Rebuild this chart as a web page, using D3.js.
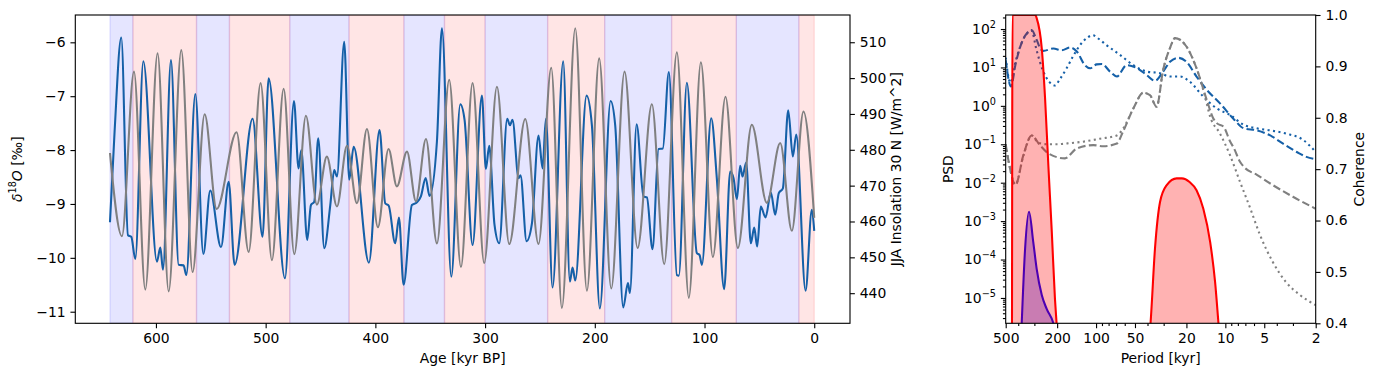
<!DOCTYPE html>
<html>
<head>
<meta charset="utf-8">
<script src="https://cdn.jsdelivr.net/npm/d3@7"></script>
<style>
  body { margin: 0; background: #fff; }
  svg text { font-family: "DejaVu Sans", sans-serif; font-size: 13.9px; fill: #000; }
</style>
</head>
<body>
<div id="chart"></div>
<script>
// ---- data ----

// delta18O record [age kyr BP, permil]
const d18o = [
  [641.9, -9.34], [637.7, -7.66], [631.6, -5.91], [625.5, -9.58], [622.5, -9.61], [618.8, -10.02],
  [611.5, -6.35], [599.1, -10.07], [596.0, -9.81], [593.6, -10.22], [586.3, -6.33], [579.3, -10.13],
  [574.8, -10.14], [572.3, -10.32], [564.1, -6.96], [556.8, -9.93], [550.5, -8.75], [540.7, -9.80],
  [533.7, -8.59], [528.3, -10.13], [511.9, -7.42], [502.8, -9.61], [497.3, -6.67], [482.4, -10.38],
  [474.2, -7.09], [470.0, -8.34], [467.5, -8.00], [462.1, -9.67], [458.7, -9.02], [455.7, -8.96],
  [452.1, -7.78], [446.6, -9.82], [441.1, -9.02], [437.5, -8.37], [435.0, -8.49], [428.4, -5.99],
  [423.8, -8.55], [419.8, -7.94], [405.9, -10.09], [396.2, -7.63], [391.0, -8.99], [387.9, -9.03],
  [381.9, -9.73], [378.5, -9.25], [374.3, -10.50], [366.7, -9.02], [362.1, -8.97], [358.5, -8.86],
  [354.2, -8.52], [350.6, -8.85], [343.9, -7.84], [339.3, -5.74], [330.8, -10.35], [322.6, -7.15],
  [318.7, -7.44], [311.4, -9.76], [302.9, -6.99], [299.3, -8.35], [296.2, -7.92], [291.4, -9.39],
  [287.1, -9.73], [279.8, -7.42], [277.4, -7.54], [275.0, -7.44], [269.5, -8.52], [267.7, -8.47],
  [262.2, -9.69], [257.3, -9.36], [251.3, -7.73], [247.6, -8.34], [244.6, -7.42], [238.5, -10.55],
  [228.8, -6.35], [222.7, -10.44], [220.3, -10.18], [217.8, -10.42], [207.5, -6.99], [202.6, -7.55],
  [195.4, -10.94], [185.6, -7.09], [181.4, -7.54], [174.1, -10.92], [169.8, -10.47], [168.0, -10.65],
  [161.9, -7.52], [155.6, -8.86], [152.5, -8.88], [147.4, -9.84], [141.9, -7.98], [138.0, -7.97],
  [132.5, -6.55], [125.2, -10.32], [123.4, -10.33], [116.1, -6.75], [107.0, -9.91], [104.5, -9.95],
  [102.4, -10.13], [93.9, -7.41], [88.8, -8.52], [82.1, -10.58], [76.6, -8.40], [73.6, -8.52],
  [70.5, -8.91], [67.5, -8.29], [65.4, -8.49], [62.0, -8.23], [57.8, -9.73], [54.7, -9.44],
  [52.0, -9.79], [48.7, -9.05], [44.4, -9.25], [39.5, -8.79], [35.6, -9.20], [32.3, -8.80],
  [28.6, -8.71], [23.7, -7.26], [19.5, -8.12], [16.4, -7.71], [7.9, -10.61], [2.2, -9.11], [0, -9.50]
];

// JJA insolation 30N [age kyr BP, W/m^2]
const insolation = [
  [641.9, 479.1], [631.0, 455.9], [620.0, 501.8], [609.7, 441.0], [598.5, 506.9], [588.4, 440.5],
  [576.9, 507.8], [566.6, 445.9], [555.6, 489.9], [544.7, 463.5], [526.5, 484.9], [515.5, 451.5],
  [504.6, 498.6], [494.3, 449.2], [483.6, 497.0], [473.9, 450.9], [463.3, 489.5], [453.3, 464.7],
  [444.2, 478.1], [435.0, 464.2], [425.9, 481.1], [416.8, 465.1], [407.7, 485.8], [397.7, 458.4],
  [388.0, 480.2], [380.4, 469.8], [371.2, 479.5], [363.0, 465.6], [353.9, 483.0], [343.9, 453.9],
  [332.7, 499.5], [322.0, 447.3], [311.4, 498.6], [300.8, 448.4], [289.2, 497.6], [278.0, 453.7],
  [263.4, 488.6], [251.3, 453.7], [239.7, 502.9], [230.0, 435.9], [217.8, 513.9], [207.2, 440.7],
  [196.0, 505.5], [185.0, 441.3], [172.9, 501.8], [161.0, 452.6], [148.0, 492.7], [136.7, 448.1],
  [125.2, 507.2], [114.3, 438.7], [103.3, 504.4], [92.4, 450.1], [80.9, 494.8], [69.6, 452.6],
  [56.9, 487.0], [43.2, 465.2], [31.0, 481.9], [20.4, 457.4], [9.8, 490.7], [0, 461.0]
];

// stage boundaries (kyr BP), first band glacial
const stageBounds = [641.9, 621, 563, 533, 478, 424, 374, 337, 300, 243, 191, 130, 71, 14, 0];

// spectra [period kyr, PSD]
const psdD18oA = [
  [500, 15.5], [455, 3.2], [420, 12], [380, 40], [340, 80], [315, 94], [290, 55], [268, 30],
  [256, 27], [214, 31], [184, 28], [159, 33], [141, 26], [122, 11.5], [111, 9.5], [99, 12],
  [90, 12.3], [78, 7.8], [69, 5.8], [58, 11.5], [48, 9.5], [40.5, 6.3], [35, 4.5], [30.3, 7.8],
  [26.8, 14], [23.1, 17.8], [20, 14], [16.7, 5.8], [13.9, 2.6], [11, 1.16], [8.6, 0.45],
  [7.2, 0.26], [5.7, 0.23], [4.5, 0.17], [3.6, 0.105], [2.8, 0.063], [2.36, 0.047], [2, 0.041]
];
const psdD18oB = [
  [500, 18], [460, 4], [420, 14], [370, 50], [330, 85], [315, 90], [290, 30], [260, 9],
  [230, 4.2], [208, 3.4], [190, 5], [169, 9.5], [150, 20], [133, 38], [115, 62], [106, 69],
  [95, 55], [83, 38], [65, 21], [51.5, 11.5], [40.5, 7.8], [32, 7.1], [26.8, 5.8], [22.4, 5.8],
  [18.9, 4.3], [14.8, 1.74], [11.6, 0.85], [9.2, 0.58], [7.2, 0.32], [5.7, 0.26], [4.5, 0.23],
  [3.4, 0.19], [2.5, 0.13], [2, 0.063]
];
const psdInsolA = [
  [500, 0.1], [470, 0.03], [420, 0.0087], [365, 0.052], [315, 0.17], [272, 0.095], [234, 0.058],
  [174, 0.043], [141, 0.078], [105, 0.095], [88, 0.089], [69, 0.105], [62, 0.21], [51.5, 0.85],
  [43, 2.2], [38.3, 1.9], [34, 0.95], [30.3, 8.5], [26.8, 32], [24.5, 58], [20, 35], [16.7, 9.5],
  [13.9, 1.4], [12.5, 0.5], [11.6, 0.35], [10.35, 0.29], [9.2, 0.12], [8.6, 0.08], [7.7, 0.035],
  [7.2, 0.026], [5.7, 0.016], [4.3, 0.0087], [3.0, 0.0043], [2, 0.0021]
];
const psdInsolB = [
  [500, 0.1], [470, 0.03], [420, 0.009], [365, 0.05], [315, 0.17], [280, 0.11], [240, 0.1],
  [200, 0.1], [169, 0.105], [126, 0.117], [93, 0.14], [69, 0.17], [62, 0.25], [51.5, 0.85],
  [43, 2.2], [38.3, 1.9], [34, 0.95], [30.3, 8.5], [26.8, 32], [24.5, 58], [20, 35], [16.7, 9.5],
  [14.5, 2.0], [13.1, 0.52], [11, 0.19], [9.2, 0.052], [7.7, 0.0105], [6.4, 0.0021],
  [5.4, 0.00044], [4.3, 8.7e-5], [3.4, 2.6e-5], [2.65, 1.2e-5], [2, 6.5e-6]
];

// coherence [period kyr, coherence]
const cohRed = [
  [500, 0.1], [455, 0.25], [447, 0.4], [445, 0.8], [443, 1.0], [400, 1.0], [320, 1.0], [295, 1.0],
  [288, 0.994], [263, 0.935], [248, 0.838], [234, 0.708], [220, 0.578], [208, 0.448], [202, 0.4],
  [190, 0.3], [150, 0.2], [60, 0.2], [42, 0.3], [37.9, 0.4], [35, 0.546], [32, 0.636], [28.4, 0.669],
  [23.8, 0.682], [21.7, 0.682], [18.9, 0.675], [16.7, 0.659], [14.8, 0.623], [13.1, 0.558],
  [12.0, 0.48], [11.3, 0.4], [10.5, 0.3], [8, 0.2], [2, 0.2]
];
const cohBlue = [
  [500, 0.1], [390, 0.3], [376, 0.4], [354, 0.545], [330, 0.617], [306, 0.558], [288, 0.506],
  [263, 0.455], [241, 0.428], [214, 0.4], [195, 0.35], [150, 0.2], [2, 0.1]
];

const ageTicks = [600, 500, 400, 300, 200, 100, 0];
const d18oTicks = [-11, -10, -9, -8, -7, -6];
const insolTicks = [440, 450, 460, 470, 480, 490, 500, 510];
const periodTicks = [500, 200, 100, 50, 20, 10, 5, 2];
const periodMinor = [400, 300, 90, 80, 70, 60, 40, 30, 9, 8, 7, 6, 4, 3];
const psdTicks = [1e-5, 1e-4, 1e-3, 1e-2, 1e-1, 1, 10, 100];
const cohTicks = [0.4, 0.5, 0.6, 0.7, 0.8, 0.9, 1.0];

// ---- drawing ----
const PT = 100 / 72;
const tickLen = 3.5 * PT, minorLen = 2 * PT, tickPad = 3.5 * PT;
const spineW = 0.8 * PT, lineW = 1.5 * PT;
const blueLine = '#1560a8';

const svg = d3.select('#chart').append('svg')
  .attr('width', 1375)
  .attr('height', 376);

const L = { x0: 75.3, x1: 850, y0: 15, y1: 323.3 };
const R = { x0: 1005.7, x1: 1315.7, y0: 15, y1: 323.3 };

const xAge = d3.scaleLinear().domain([673.5, -32.6]).range([L.x0, L.x1]);
const yD18 = d3.scaleLinear().domain([-11.215, -5.493]).range([L.y1, L.y0]);
const yIns = d3.scaleLinear().domain([431.6, 517.6]).range([L.y1, L.y0]);

const xPer = d3.scaleLog().domain([500, 2]).range([R.x0, R.x1]);
const yPsd = d3.scaleLog().domain([2.19e-6, 231.7]).range([R.y1, R.y0]);
const yCoh = d3.scaleLinear().domain([0.4, 1.0]).range([R.y1, R.y0]);

const defs = svg.append('defs');
defs.append('clipPath').attr('id', 'clipL').append('rect')
  .attr('x', L.x0).attr('y', L.y0).attr('width', L.x1 - L.x0).attr('height', L.y1 - L.y0);
defs.append('clipPath').attr('id', 'clipR').append('rect')
  .attr('x', R.x0).attr('y', R.y0).attr('width', R.x1 - R.x0).attr('height', R.y1 - R.y0);

// left panel: stage bands
const bands = d3.pairs(stageBounds).map((p, i) => ({ from: p[0], to: p[1], glacial: i % 2 === 0 }));
const gL = svg.append('g').attr('clip-path', 'url(#clipL)');
gL.selectAll('rect.band')
  .data(bands)
  .enter().append('rect')
    .attr('class', 'band')
    .attr('x', d => xAge(d.from))
    .attr('width', d => xAge(d.to) - xAge(d.from))
    .attr('y', L.y0)
    .attr('height', L.y1 - L.y0)
    .attr('fill', d => d.glacial ? 'blue' : 'red')
    .attr('fill-opacity', 0.1)
    .attr('stroke', d => d.glacial ? 'blue' : 'red')
    .attr('stroke-opacity', 0.1)
    .attr('stroke-width', PT);

const lineD18 = d3.line().x(d => xAge(d[0])).y(d => yD18(d[1])).curve(d3.curveMonotoneX);
const lineIns = d3.line().x(d => xAge(d[0])).y(d => yIns(d[1])).curve(d3.curveMonotoneX);

gL.append('path').attr('d', lineD18(d18o))
  .attr('fill', 'none').attr('stroke', blueLine).attr('stroke-width', lineW);
gL.append('path').attr('d', lineIns(insolation))
  .attr('fill', 'none').attr('stroke', 'gray').attr('stroke-width', lineW);

// right panel: spectra
const gR = svg.append('g').attr('clip-path', 'url(#clipR)');
const linePsd = d3.line().x(d => xPer(d[0])).y(d => yPsd(d[1])).curve(d3.curveMonotoneX);
const dash = `${3.7 * 1.5 * PT} ${1.6 * 1.5 * PT}`;
const dot = `${1 * 1.5 * PT} ${1.65 * 1.5 * PT}`;
[
  [psdD18oA, blueLine, dash],
  [psdD18oB, blueLine, dot],
  [psdInsolA, 'gray', dash],
  [psdInsolB, 'gray', dot]
].forEach(([data, color, pattern]) => {
  gR.append('path').attr('d', linePsd(data))
    .attr('fill', 'none').attr('stroke', color)
    .attr('stroke-width', lineW).attr('stroke-dasharray', pattern);
});

// coherence on the twin axis
const areaCoh = d3.area().x(d => xPer(d[0])).y0(yCoh(0)).y1(d => yCoh(d[1])).curve(d3.curveMonotoneX);
const lineCoh = d3.line().x(d => xPer(d[0])).y(d => yCoh(d[1])).curve(d3.curveMonotoneX);
[[cohBlue, 'blue'], [cohRed, 'red']].forEach(([data, color]) => {
  gR.append('path').attr('d', areaCoh(data)).attr('fill', color).attr('fill-opacity', 0.3);
  gR.append('path').attr('d', lineCoh(data))
    .attr('fill', 'none').attr('stroke', color).attr('stroke-width', lineW);
});

// ---- axes ----
function styleAxis(g) {
  g.select('.domain').remove();
  g.selectAll('.tick line').attr('stroke', '#000').attr('stroke-width', spineW);
  g.selectAll('.tick text').attr('font-size', null).attr('font-family', null);
  g.attr('font-size', null).attr('font-family', null);
}
const minus = s => s.replace('-', '\u2212');

svg.append('g').attr('transform', `translate(0,${L.y1})`)
  .call(d3.axisBottom(xAge).tickValues(ageTicks).tickSize(tickLen).tickPadding(tickPad).tickFormat(d3.format('d')))
  .call(styleAxis);
svg.append('g').attr('transform', `translate(${L.x0},0)`)
  .call(d3.axisLeft(yD18).tickValues(d18oTicks).tickSize(tickLen).tickPadding(tickPad).tickFormat(d => minus(String(d))))
  .call(styleAxis);
svg.append('g').attr('transform', `translate(${L.x1},0)`)
  .call(d3.axisRight(yIns).tickValues(insolTicks).tickSize(tickLen).tickPadding(tickPad).tickFormat(d3.format('d')))
  .call(styleAxis);

svg.append('g').attr('transform', `translate(0,${R.y1})`)
  .call(d3.axisBottom(xPer).tickValues(periodTicks).tickSize(tickLen).tickPadding(tickPad).tickFormat(d3.format('d')))
  .call(styleAxis);
svg.append('g').attr('transform', `translate(0,${R.y1})`)
  .call(d3.axisBottom(xPer).tickValues(periodMinor).tickSize(minorLen).tickFormat(''))
  .call(styleAxis);

const psdMinor = [];
for (let k = -6; k <= 2; k++) {
  for (let m = 2; m <= 9; m++) {
    const v = m * Math.pow(10, k);
    if (v > yPsd.domain()[0] && v < yPsd.domain()[1]) psdMinor.push(v);
  }
}
const gPsd = svg.append('g').attr('transform', `translate(${R.x0},0)`)
  .call(d3.axisLeft(yPsd).tickValues(psdTicks).tickSize(tickLen).tickPadding(tickPad).tickFormat(''))
  .call(styleAxis);
gPsd.selectAll('.tick text').each(function (d) {
  const e = Math.round(Math.log10(d));
  const t = d3.select(this);
  t.append('tspan').text('10');
  t.append('tspan').attr('dy', -6).style('font-size', '9.7px').text(minus(String(e)));
});
svg.append('g').attr('transform', `translate(${R.x0},0)`)
  .call(d3.axisLeft(yPsd).tickValues(psdMinor).tickSize(minorLen).tickFormat(''))
  .call(styleAxis);
svg.append('g').attr('transform', `translate(${R.x1},0)`)
  .call(d3.axisRight(yCoh).tickValues(cohTicks).tickSize(tickLen).tickPadding(tickPad).tickFormat(d3.format('.1f')))
  .call(styleAxis);

// frames
[L, R].forEach(b => {
  svg.append('rect')
    .attr('x', b.x0).attr('y', b.y0).attr('width', b.x1 - b.x0).attr('height', b.y1 - b.y0)
    .attr('fill', 'none').attr('stroke', '#000').attr('stroke-width', spineW);
});

// axis labels
svg.append('text').attr('x', (L.x0 + L.x1) / 2).attr('y', 363).attr('text-anchor', 'middle').text('Age [kyr BP]');
svg.append('text').attr('x', (R.x0 + R.x1) / 2).attr('y', 363).attr('text-anchor', 'middle').text('Period [kyr]');

const yLab = svg.append('text').attr('transform', `translate(22,${(L.y0 + L.y1) / 2}) rotate(-90)`)
  .attr('text-anchor', 'middle');
yLab.append('tspan').attr('font-style', 'italic').text('\u03b4');
yLab.append('tspan').attr('dy', -6).style('font-size', '9.7px').text('18');
yLab.append('tspan').attr('dy', 6).attr('font-style', 'italic').text('O');
yLab.append('tspan').text(' [\u2030]');

svg.append('text').attr('transform', `translate(901,${(L.y0 + L.y1) / 2}) rotate(-90)`)
  .attr('text-anchor', 'middle').text('JJA Insolation 30 N [W/m^2]');
svg.append('text').attr('transform', `translate(953,${(R.y0 + R.y1) / 2}) rotate(-90)`)
  .attr('text-anchor', 'middle').text('PSD');
svg.append('text').attr('transform', `translate(1364,${(R.y0 + R.y1) / 2}) rotate(-90)`)
  .attr('text-anchor', 'middle').text('Coherence');
</script>
</body>
</html>
